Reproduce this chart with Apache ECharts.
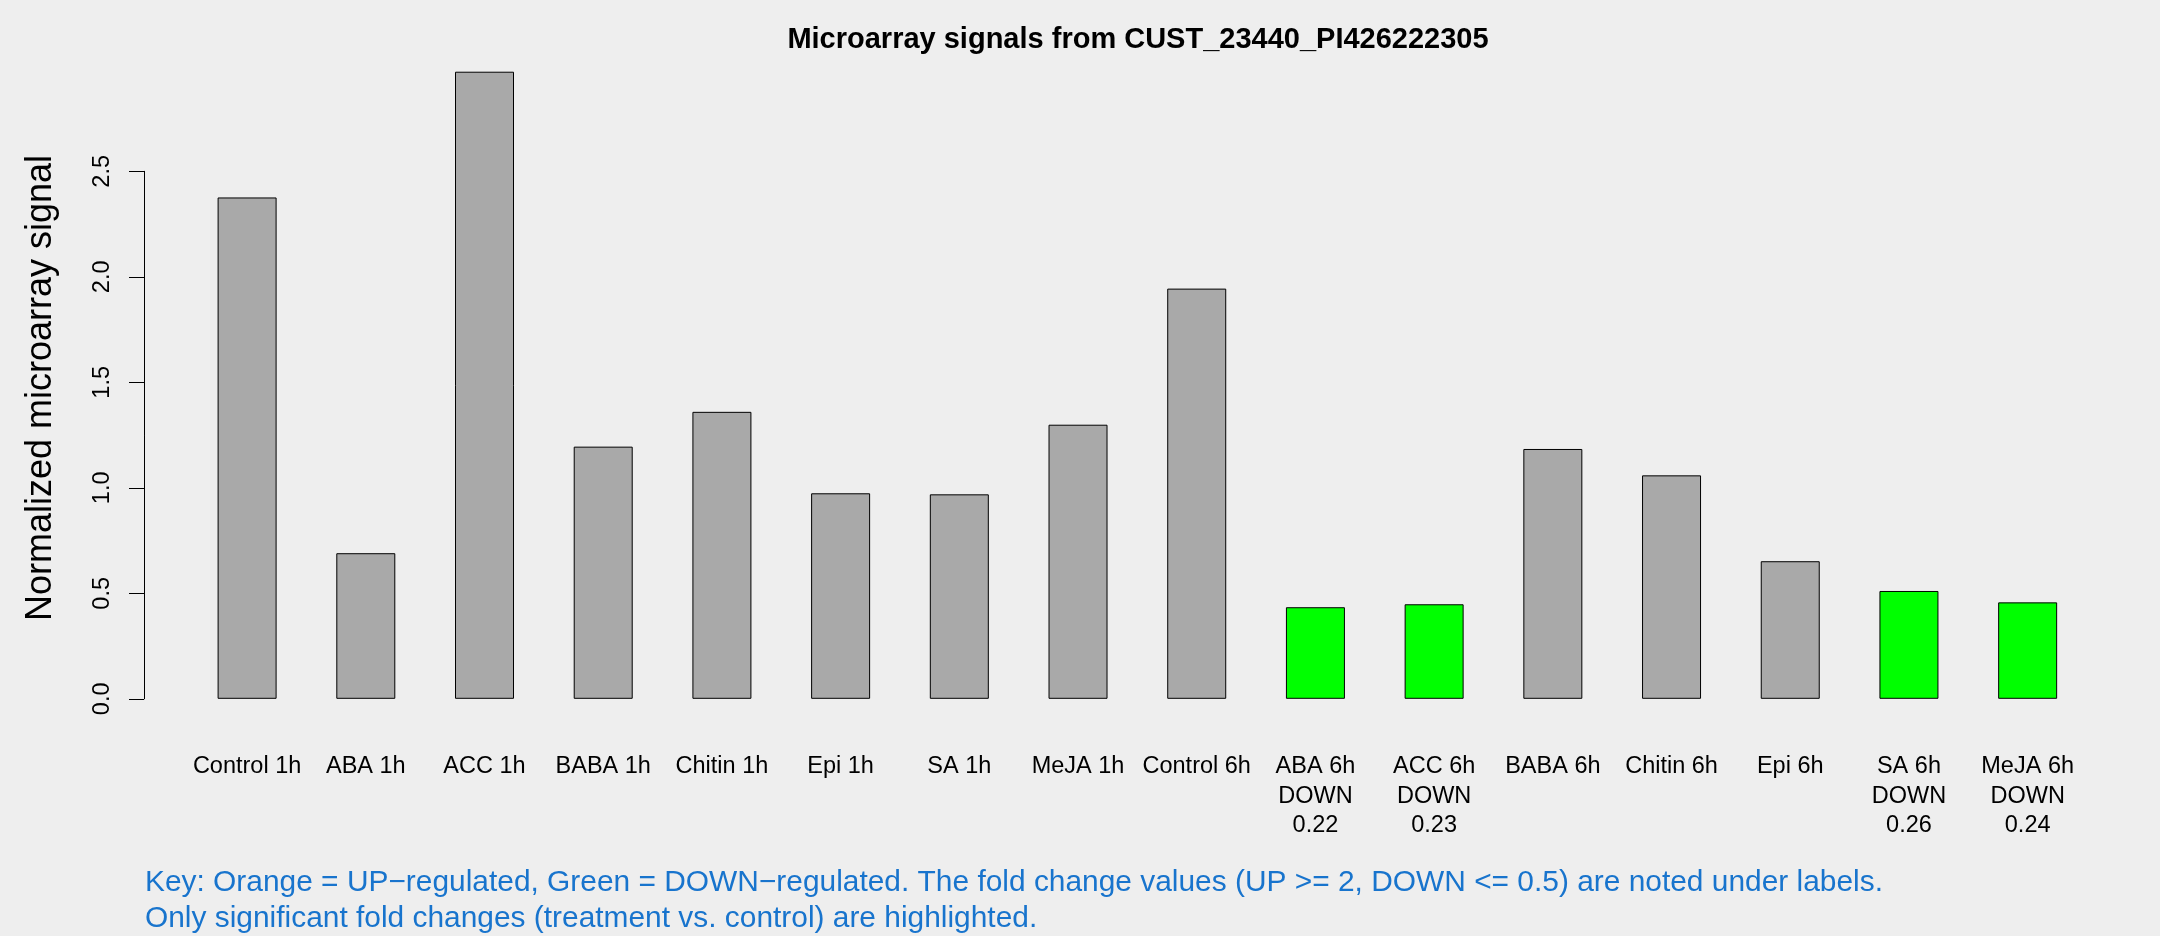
<!DOCTYPE html>
<html>
<head>
<meta charset="utf-8">
<script src="https://cdn.jsdelivr.net/npm/echarts@6/dist/echarts.min.js"></script>
<style>
  html, body { margin: 0; padding: 0; background: #EEEEEE; }
  #chart { width: 2160px; height: 936px; }
</style>
</head>
<body>
<div id="chart"></div>
<script>
// ---- data ----
const titleText = 'Microarray signals from CUST_23440_PI426222305';
const yAxisTitle = 'Normalized microarray signal';
const categories = ['Control 1h', 'ABA 1h', 'ACC 1h', 'BABA 1h', 'Chitin 1h', 'Epi 1h', 'SA 1h', 'MeJA 1h',
                    'Control 6h', 'ABA 6h', 'ACC 6h', 'BABA 6h', 'Chitin 6h', 'Epi 6h', 'SA 6h', 'MeJA 6h'];
const signalValues = [2.376, 0.690, 2.972, 1.195, 1.360, 0.974, 0.969, 1.299,
                      1.944, 0.434, 0.448, 1.184, 1.059, 0.652, 0.511, 0.457];
const regulation = ['', '', '', '', '', '', '', '',
                    '', 'DOWN', 'DOWN', '', '', '', 'DOWN', 'DOWN'];
const foldChange = [null, null, null, null, null, null, null, null,
                    null, '0.22', '0.23', null, null, null, '0.26', '0.24'];
const yTicks = [0, 0.5, 1.0, 1.5, 2.0, 2.5];
const keyLines = [
  'Key: Orange = UP\u2212regulated, Green = DOWN\u2212regulated. The fold change values (UP >= 2, DOWN <= 0.5) are noted under labels.',
  'Only significant fold changes (treatment vs. control) are highlighted.'
];

// ---- styling ----
const FONT = '"Liberation Sans", Arial, Helvetica, sans-serif';
const colorFor = r => r === 'DOWN' ? '#00FF00' : (r === 'UP' ? '#FFA500' : '#A9A9A9');

// plot geometry (pixels)
const yZero = 698.8;           // pixel of value 0
const pxPerUnit = 211;         // pixels per unit of signal
const yMaxMain = 3.0;
const yMaxAxis = yTicks[yTicks.length - 1];

const chart = echarts.init(document.getElementById('chart'), null, { renderer: 'canvas' });

const option = {
  backgroundColor: '#EEEEEE',
  animation: false,
  title: {
    text: titleText,
    left: 1133,
    top: 20,
    textAlign: 'center',
    textStyle: { fontFamily: FONT, fontSize: 29, fontWeight: 'bold', color: '#000' }
  },
  grid: [
    { left: 187.75, right: 73, top: yZero - yMaxMain * pxPerUnit, bottom: 936 - yZero, outerBoundsMode: 'none' },
    { left: 144, width: 100, top: yZero - yMaxAxis * pxPerUnit, bottom: 936 - yZero, outerBoundsMode: 'none' }
  ],
  xAxis: [
    {
      gridIndex: 0,
      type: 'category',
      data: categories,
      boundaryGap: true,
      axisLine: { show: false },
      axisTick: { show: false },
      axisLabel: {
        interval: 0,
        margin: 53,
        fontFamily: FONT,
        fontSize: 23.5,
        lineHeight: 29.5,
        color: '#000',
        align: 'center',
        verticalAlign: 'top',
        formatter: (val, idx) => {
          const lines = [val];
          if (regulation[idx]) lines.push(regulation[idx]);
          if (foldChange[idx] !== null) lines.push(foldChange[idx]);
          return lines.join('\n');
        }
      },
      splitLine: { show: false }
    },
    { gridIndex: 1, type: 'value', show: false }
  ],
  yAxis: [
    { gridIndex: 0, type: 'value', min: 0, max: yMaxMain, show: false },
    {
      gridIndex: 1,
      type: 'value',
      min: 0,
      max: yMaxAxis,
      interval: 0.5,
      axisLine: { show: true, lineStyle: { color: '#000', width: 1 } },
      axisTick: { show: true, length: 15, inside: false, lineStyle: { color: '#000', width: 1 } },
      axisLabel: {
        rotate: 90,
        margin: 29,
        fontFamily: FONT,
        fontSize: 23.5,
        color: '#000',
        formatter: v => v.toFixed(1)
      },
      splitLine: { show: false }
    }
  ],
  series: [
    {
      type: 'bar',
      xAxisIndex: 0,
      yAxisIndex: 0,
      barWidth: 59,
      data: signalValues.map((v, i) => ({
        value: v,
        itemStyle: { color: colorFor(regulation[i]), borderColor: '#000', borderWidth: 1 }
      })),
      emphasis: { disabled: true }
    }
  ],
  graphic: [
    {
      type: 'text',
      x: 41.5,
      y: 388,
      rotation: Math.PI / 2,
      style: {
        text: yAxisTitle,
        font: '36px ' + FONT,
        fill: '#000',
        align: 'center',
        verticalAlign: 'middle'
      }
    },
    {
      type: 'text',
      x: 145,
      y: 883,
      style: { text: keyLines[0], font: '29.9px ' + FONT, fill: '#1874CD', align: 'left', verticalAlign: 'middle' }
    },
    {
      type: 'text',
      x: 145,
      y: 919,
      style: { text: keyLines[1], font: '29.9px ' + FONT, fill: '#1874CD', align: 'left', verticalAlign: 'middle' }
    }
  ]
};

chart.setOption(option);
</script>
</body>
</html>
